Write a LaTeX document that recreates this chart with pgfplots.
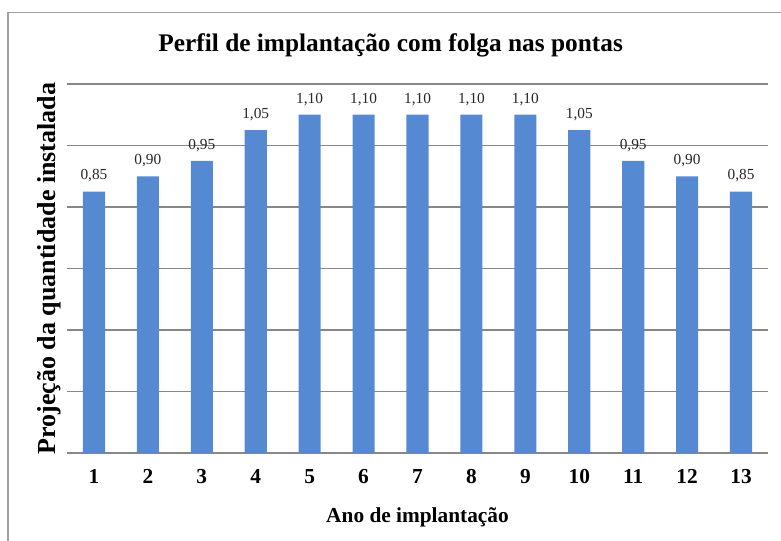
\documentclass[border=0pt]{standalone}
\usepackage{pgfplots}
\pgfplotsset{compat=1.18}
\usepackage{fontspec}
\setmainfont{Liberation Serif}
\definecolor{barblue}{RGB}{85,138,210}
\definecolor{gridgray}{RGB}{135,135,135}
\definecolor{framegray}{RGB}{160,160,160}
\begin{document}
\begin{tikzpicture}
\path[use as bounding box] (0,0) rectangle (585.75pt,405pt);
\draw[framegray, line width=1.2pt] (6.2pt,-5pt) -- (6.2pt,395.5pt) -- (600pt,395.5pt);
\node[font=\bfseries\fontsize{19}{21}\selectfont] at (293pt,371pt) {Perfil de implantação com folga nas pontas};
\begin{axis}[
  at={(50.25pt,65.25pt)}, anchor=south west,
  scale only axis, width=525.75pt, height=276.75pt,
  xmin=0.5, xmax=13.5, ymin=0, ymax=1.2,
  axis x line*=bottom, axis y line*=left,
  y axis line style={draw=none},
  x axis line style={draw=gridgray, line width=1.1pt},
  ytick={0,0.2,...,1.2}, yticklabels={}, ytick style={draw=none},
  ymajorgrids, grid style={draw=gridgray, line width=1.1pt},
  xtick={1,...,13}, xticklabels={1,2,3,4,5,6,7,8,9,10,11,12,13},
  xtick style={draw=none},
  extra x ticks={0.5,1.5,...,13.5}, extra x tick labels={},
  extra x tick style={major tick length=5pt, tick style={draw=gridgray, line width=1pt}, tick align=outside, xmajorgrids=false},
  xticklabel style={font=\bfseries\fontsize{16}{18}\selectfont, yshift=-9pt},
  xlabel={Ano de implantação},
  xlabel style={font=\bfseries\fontsize{16}{18}\selectfont, yshift=-6pt},
  ylabel={Projeção da quantidade instalada},
  ylabel style={font=\bfseries\fontsize{19.5}{21}\selectfont, yshift=-6pt},
  clip=false,
]
\addplot[ybar, bar width=0.41, fill=barblue, draw=none,
  nodes near coords,
  nodes near coords style={font=\fontsize{11.5}{12}\selectfont, text=black!85, yshift=3.5pt, /pgf/number format/.cd, assume math mode=true, use comma, fixed, fixed zerofill, precision=2},
] coordinates {
(1,0.85) (2,0.90) (3,0.95) (4,1.05) (5,1.10) (6,1.10) (7,1.10) (8,1.10) (9,1.10) (10,1.05) (11,0.95) (12,0.90) (13,0.85)
};
\end{axis}
\end{tikzpicture}
\end{document}
